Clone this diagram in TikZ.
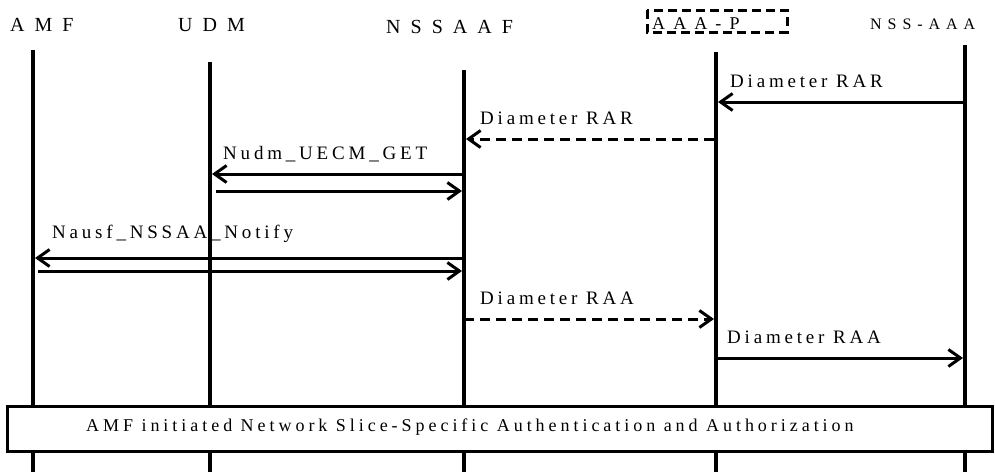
\documentclass[tikz,border=0pt]{standalone}
\usepackage{fontspec}
\setmainfont{Liberation Serif}
\newfontfamily\hdr{Liberation Serif}[LetterSpace=50]
\newfontfamily\hdrb{Liberation Serif}[LetterSpace=45]
\newfontfamily\hdrc{Liberation Serif}[LetterSpace=37]
\newfontfamily\lbl{Liberation Serif}[LetterSpace=20]
\newfontfamily\boxf{Liberation Serif}[LetterSpace=22]
\usetikzlibrary{arrows.meta}
\begin{document}
\begin{tikzpicture}[x=1pt,y=-1pt,
  life/.style={line width=3.6pt},
  msg/.style={line width=3pt,-{Straight Barb[length=12pt,width=17pt,line width=3pt]}},
  dmsg/.style={msg,dash pattern=on 10pt off 6pt},
  hd/.style={font=\hdr\fontsize{20}{22}\selectfont,inner sep=0pt,anchor=base west},
  lb/.style={font=\lbl\fontsize{19}{21}\selectfont,inner sep=0pt,anchor=base west}]
\useasboundingbox (0,0) rectangle (995,472);
% headers
\node[hd] (hamf) at (10,31) {AMF};
\node[hd] (hudm) at (178,31) {UDM};
\node[hd] (hnssaaf) at (386,33) {NSSAAF};
\node[hd,font=\hdrb\fontsize{18}{20}\selectfont] (haaap) at (652,29) {AAA-P};
\draw[line width=3pt,dash pattern=on 9pt off 5pt] (647,10) rectangle (787,32);
\node[hd,font=\hdrc\fontsize{16}{18}\selectfont] (hnss) at (870,29) {NSS-AAA};
% lifelines
\coordinate (amfT) at (33,50);   \coordinate (amfB) at (33,472);
\coordinate (udmT) at (210,62);  \coordinate (udmB) at (210,472);
\coordinate (nafT) at (464,70);  \coordinate (nafB) at (464,472);
\coordinate (aaaT) at (716,52);  \coordinate (aaaB) at (716,472);
\coordinate (nssT) at (965,45);  \coordinate (nssB) at (965,472);
\foreach \a/\b in {amfT/amfB,udmT/udmB,nafT/nafB,aaaT/aaaB,nssT/nssB}
  \draw[life] (\a) -- (\b);
% messages
\draw[msg] (965,102) -- (718,102);
\node[lb] (l1) at (730,87) {Diameter RAR};
\draw[dmsg] (714,139) -- (466,139);
\node[lb] (l2) at (480,124) {Diameter RAR};
\draw[msg] (462,174) -- (212,174);
\node[lb] (l3) at (223,159) {Nudm\_UECM\_GET};
\draw[msg] (216,191) -- (462,191);
\draw[msg] (462,258) -- (35,258);
\node[lb] (l4) at (52,238) {Nausf\_NSSAA\_Notify};
\draw[msg] (38,271) -- (462,271);
\draw[dmsg] (464,319) -- (714,319);
\node[lb] (l5) at (480,304) {Diameter RAA};
\draw[msg] (716,358) -- (963,358);
\node[lb] (l6) at (727,343) {Diameter RAA};
% bottom box
\node[draw,line width=3pt,fill=white,minimum width=985pt,minimum height=45pt,inner sep=0pt] (procbox) at (500,429) {};
\node[font=\boxf\fontsize{18}{20}\selectfont,anchor=base west,inner sep=0pt] (boxtxt) at (86,431) {AMF initiated Network Slice-Specific Authentication and Authorization};
\end{tikzpicture}
\end{document}
